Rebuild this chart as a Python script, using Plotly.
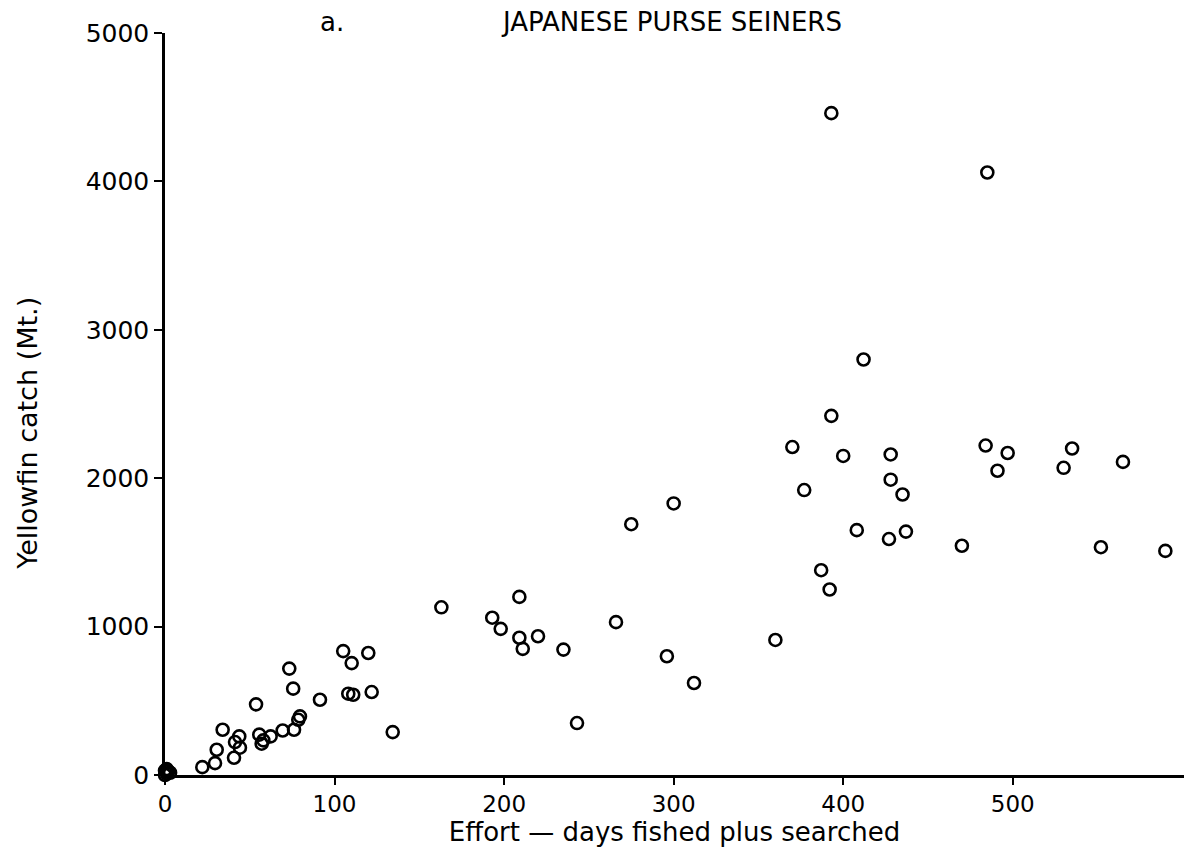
import plotly.graph_objects as go

# Yellowfin catch versus fishing effort, Japanese purse seiners
effort_days = [
    0, 1, 2, 1, 3, 0,
    22, 29.5, 30.5, 34, 40.7, 41.3, 43.8, 44.2, 53.7, 55.6, 57, 58, 62.3, 69.4,
    73.3, 75.6, 76.1, 78.6, 79.6, 91.4, 105.1, 108.1, 110.1, 111, 119.9, 121.9, 134.3,
    163, 193, 198, 209, 209, 211, 220, 235, 243, 266, 275, 296, 300, 312,
    360, 370, 377, 387, 392, 393, 393, 400, 408, 412, 427, 428, 428, 435, 437,
    470, 484, 485, 491, 497, 530, 535, 552, 565, 590,
]
catch_mt = [
    0, 10, 25, 40, 15, 30,
    53, 80, 170, 305, 116, 222, 260, 184, 476, 272, 211, 233, 260, 300,
    717, 582, 305, 372, 395, 507, 835, 548, 754, 541, 822, 559, 289,
    1130, 1060, 985, 1200, 925, 850, 935, 845, 350, 1030, 1690, 800, 1830, 620,
    910, 2210, 1920, 1380, 1250, 2420, 4460, 2150, 1650, 2800, 1590, 2160, 1990, 1890, 1640,
    1545, 2220, 4060, 2050, 2170, 2070, 2200, 1535, 2110, 1510,
]

y_ticks = [0, 1000, 2000, 3000, 4000, 5000]
x_ticks = [0, 100, 200, 300, 400, 500]

font_family = "DejaVu Sans"

fig = go.Figure(
    go.Scatter(
        x=effort_days,
        y=catch_mt,
        mode="markers",
        marker=dict(
            symbol="circle-open",
            size=12,
            color="black",
            line=dict(color="black", width=2.6),
        ),
        cliponaxis=False,
        hoverinfo="x+y",
    )
)

fig.update_layout(
    width=1184,
    height=855,
    margin=dict(l=165, r=0, t=33, b=80),
    paper_bgcolor="white",
    plot_bgcolor="white",
    showlegend=False,
    font=dict(family=font_family, color="black", size=22),
    annotations=[
        dict(text="a.", x=0.150, y=1.0, xref="paper", yref="paper",
             xanchor="left", yanchor="bottom", yshift=-6, showarrow=False,
             font=dict(size=26)),
        dict(text="JAPANESE PURSE SEINERS", x=0.497, y=1.0, xref="paper", yref="paper",
             xanchor="center", yanchor="bottom", yshift=-6, showarrow=False,
             font=dict(size=26)),
        # vertical axis title, set a little below the middle of the axis
        dict(text="Yellowfin catch (Mt.)", x=0, y=0.46, xref="paper", yref="paper",
             xanchor="center", yanchor="middle", xshift=-137, textangle=-90,
             showarrow=False, font=dict(size=27)),
    ],
)

fig.update_xaxes(
    range=[0, 601],
    tickvals=x_ticks,
    ticktext=[str(v) for v in x_ticks],
    showgrid=False,
    zeroline=False,
    showline=True,
    linecolor="black",
    linewidth=2.5,
    ticks="outside",
    ticklen=7,
    tickwidth=2,
    tickcolor="black",
    tickfont=dict(size=23),
    title=dict(text="Effort \u2014 days fished plus searched", font=dict(size=26), standoff=6),
)

fig.update_yaxes(
    range=[0, 5000],
    tickvals=y_ticks,
    ticktext=[str(v) for v in y_ticks],
    showgrid=False,
    zeroline=False,
    showline=True,
    linecolor="black",
    linewidth=2.5,
    ticks="outside",
    ticklen=8,
    tickwidth=2,
    tickcolor="black",
    tickfont=dict(size=25),
)

fig.write_html("out.html")
